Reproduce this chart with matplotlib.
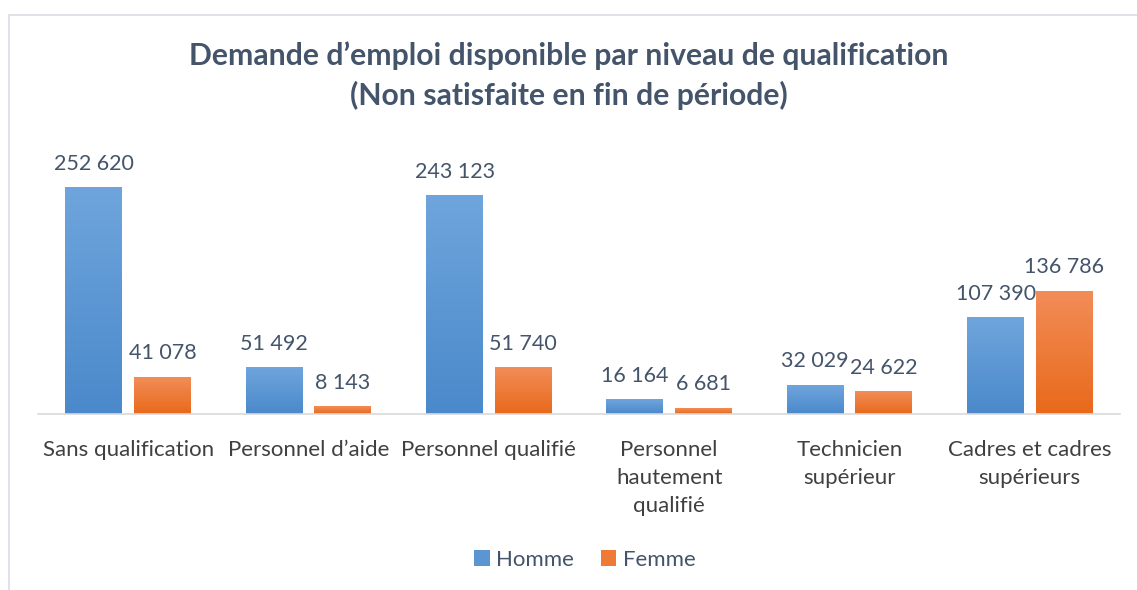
import numpy as np
import matplotlib
matplotlib.use('Agg')
import matplotlib.pyplot as plt
from matplotlib.colors import LinearSegmentedColormap
from matplotlib.patches import Rectangle, Patch

plt.rcParams['font.family'] = ['Lato', 'DejaVu Sans']

categories = ['Sans qualification', 'Personnel d\u2019aide', 'Personnel qualifi\u00e9',
              'Personnel\nhautement\nqualifi\u00e9', 'Technicien\nsup\u00e9rieur',
              'Cadres et cadres\nsup\u00e9rieurs']
homme = [252620, 51492, 243123, 16164, 32029, 107390]
femme = [41078, 8143, 51740, 6681, 24622, 136786]
series_names = ['Homme', 'Femme']

text_col = '#44546A'
blue_grad = LinearSegmentedColormap.from_list('b', ['#4A89CB', '#6FA5DC'])
orange_grad = LinearSegmentedColormap.from_list('o', ['#E8691B', '#F28D58'])

fig = plt.figure(figsize=(11.37, 5.90), dpi=100)
ax = fig.add_axes([38 / 1137, 176 / 590, 1082 / 1137, 269 / 590])

x = np.arange(len(categories))
w = 0.316
off = 0.19
grad = np.linspace(0, 1, 256).reshape(-1, 1)

for vals, dx, cmap in [(homme, -off, blue_grad), (femme, off, orange_grad)]:
    bars = ax.bar(x + dx, vals, width=w, color='none', edgecolor='none')
    for b, v in zip(bars, vals):
        x0 = b.get_x()
        ax.imshow(grad, extent=(x0, x0 + w, 0, v), origin='lower', cmap=cmap,
                  aspect='auto', zorder=2)
        ax.annotate(f'{v:,}'.replace(',', ' '), (x0 + w / 2, v), xytext=(0, 10),
                    textcoords='offset points', ha='center', va='bottom',
                    fontsize=15.5, color=text_col)

ax.set_xlim(-0.5, len(categories) - 0.5)
ax.set_ylim(0, 300000)
for s in ['top', 'right', 'left']:
    ax.spines[s].set_visible(False)
ax.spines['bottom'].set_color('#D9D9D9')
ax.spines['bottom'].set_linewidth(1.2)
ax.set_yticks([])
ax.set_xticks(x)
ax.set_xticklabels(categories, fontsize=16, color='#404040', linespacing=1.5)
ax.tick_params(axis='x', length=0, pad=19)

fig.text(0.5, 1 - 76 / 590, 'Demande d\u2019emploi disponible par niveau de qualification\n(Non satisfaite en fin de p\u00e9riode)',
         ha='center', va='center', fontsize=21.7, fontweight='bold', color=text_col,
         linespacing=1.45)

handles = [Patch(facecolor='#5B96D3'), Patch(facecolor='#EE7A36')]
fig.legend(handles, series_names, loc='center', bbox_to_anchor=(585 / 1137, 1 - 560 / 590),
           ncol=2, frameon=False, fontsize=16, handlelength=0.7, handleheight=0.7,
           handletextpad=0.3, columnspacing=1.2, labelcolor=text_col)

fig.patches.append(Rectangle((9 / 1137, -0.1), 1.2, 1.1 - 15 / 590, transform=fig.transFigure,
                             fill=False, edgecolor='#D9DEE5', linewidth=1.2))

fig.savefig('out.png', dpi=100)
